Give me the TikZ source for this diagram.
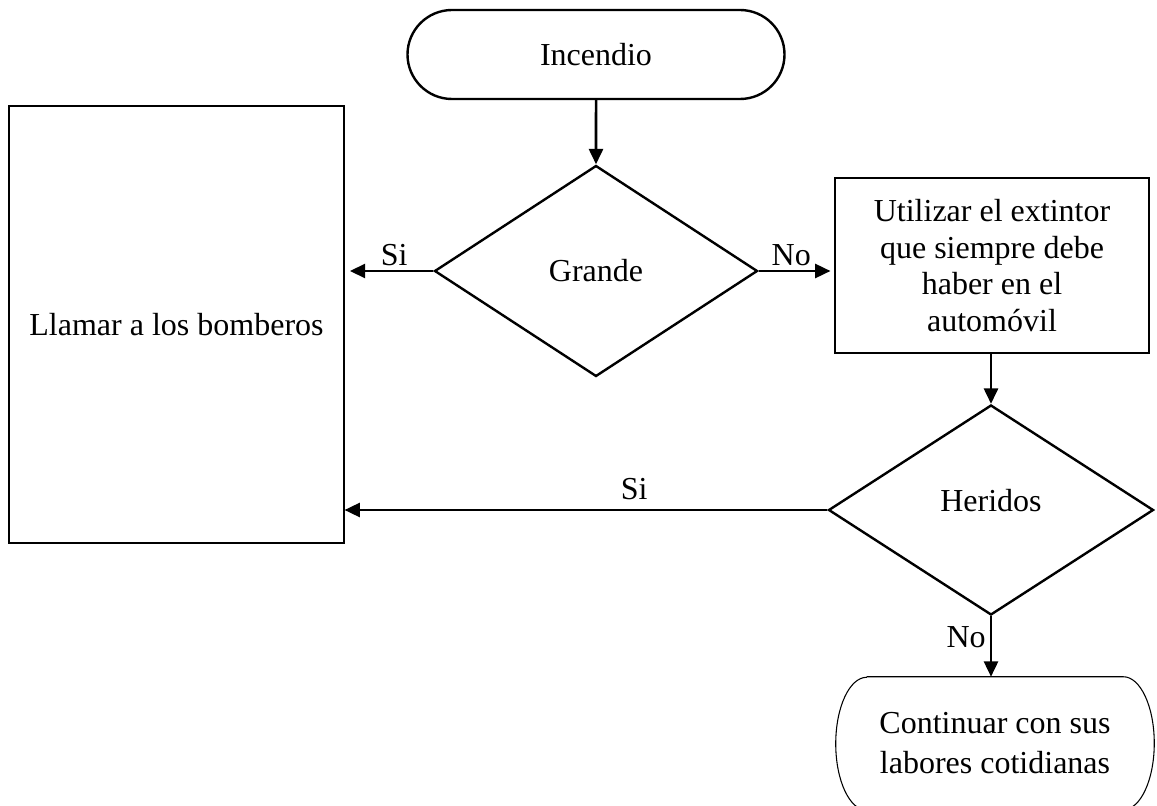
\documentclass[tikz,border=0pt]{standalone}
\usepackage{fontspec}
\setmainfont{Liberation Serif}
\usepackage{tikz}
\usetikzlibrary{shapes.geometric,shapes.misc,arrows.meta}

\begin{document}
\begin{tikzpicture}[x=0.75pt,y=-0.75pt,
    font=\fontsize{24}{27.5}\selectfont,
    terminal/.style={draw,rounded rectangle,inner sep=0pt,align=center},
    decision/.style={draw,diamond,inner sep=0pt,line width=1.8pt},
    process/.style={draw,rectangle,inner sep=0pt,align=center,line width=0.8pt},
    flow/.style={line width=1.9pt,-{Triangle[length=11.5pt,width=10.5pt]}},
    answer/.style={inner sep=3pt}]
  \useasboundingbox (0,0) rectangle (1157,806);
  \node[terminal,line width=1.8pt,minimum width=282.75pt,minimum height=66.75pt]
    (incendio) at (596,54.5) {Incendio};
  \node[decision,minimum width=242.25pt,minimum height=158.25pt]
    (grande) at (596,271) {Grande};
  \node[process,minimum width=251.25pt,minimum height=327.75pt]
    (bomberos) at (176.5,324.5) {Llamar a los bomberos};
  \node[process,minimum width=235.5pt,minimum height=131.25pt]
    (extintor) at (992,265.5)
    {Utilizar el extintor\\que siempre debe\\haber en el\\autom\'ovil};
  \node[decision,text depth=14pt,minimum width=243.75pt,minimum height=157.5pt]
    (heridos) at (991,510) {Heridos};
  \node[rectangle,inner sep=0pt,align=center,
      minimum width=238.5pt,minimum height=99.75pt]
    (continuar) at (995,743.5) {Continuar con sus\\[2.5pt]labores cotidianas};
  % flatter ends than the top terminal
  \draw[line width=0.8pt] ([xshift=23.25pt]continuar.north west)
    -- ([xshift=-23.25pt]continuar.north east)
    arc[start angle=-90,end angle=90,x radius=31,y radius=66.5]
    -- ([xshift=23.25pt]continuar.south west)
    arc[start angle=90,end angle=270,x radius=31,y radius=66.5];

  \draw[flow] (incendio) -- (grande);
  \draw[flow,shorten >=4pt] (grande.west) -- (grande.west -| bomberos.east)
    node[answer,above,pos=.44] {Si};
  \draw[flow,shorten >=3pt] (grande.east) -- (grande.east -| extintor.west)
    node[answer,above,pos=.43] {No};
  \draw[flow] (heridos.north |- extintor.south) -- (heridos.north);
  \draw[flow] (heridos.west) -- (heridos.west -| bomberos.east)
    node[answer,above,pos=.40,yshift=4pt] {Si};
  \draw[flow] (heridos.south) -- (heridos.south |- continuar.north)
    node[answer,left,pos=.35] {No};
\end{tikzpicture}
\end{document}
